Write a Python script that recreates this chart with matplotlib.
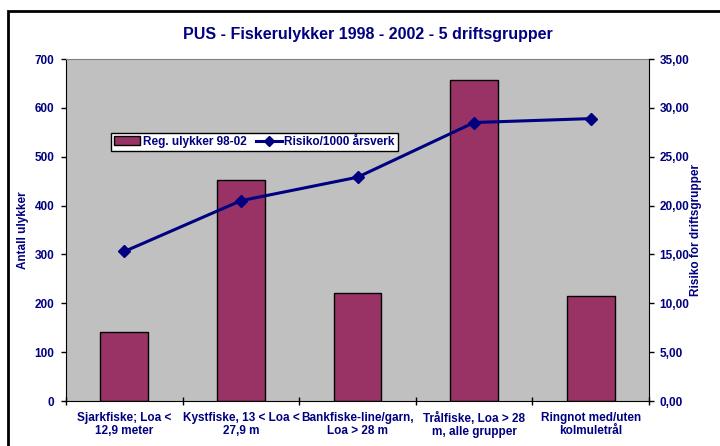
import numpy as np
import matplotlib.pyplot as plt
from matplotlib.patches import Rectangle
from matplotlib.lines import Line2D

# PUS - fishing accidents 1998-2002 by fleet group
categories = ["Sjarkfiske; Loa <\n12,9 meter",
              "Kystfiske, 13 < Loa <\n27,9 m",
              "Bankfiske-line/garn,\nLoa > 28 m",
              "Trålfiske, Loa > 28\nm, alle grupper",
              "Ringnot med/uten\nkolmuletrål"]
accidents = [141, 452, 222, 658, 215]          # Reg. ulykker 98-02
risk = [15.3, 20.5, 22.9, 28.5, 28.9]          # Risiko/1000 årsverk

navy = '#000080'
barcol = '#993366'
plt.rcParams['font.family'] = ['Liberation Sans', 'DejaVu Sans']
plt.rcParams['font.weight'] = 'bold'

fig = plt.figure(figsize=(7.2, 4.46), dpi=100)
ax = fig.add_axes([66/720, 45/446, 583/720, 342/446])
ax.set_facecolor('#C0C0C0')

x = np.arange(len(categories))
ax.bar(x, accidents, width=0.41, color=barcol, edgecolor='black', linewidth=1, zorder=2)
ax.set_xlim(-0.5, 4.5)
ax.set_ylim(0, 700)
ax.set_yticks(np.arange(0, 701, 100))
ax.set_xticks(np.arange(-0.5, 4.6, 1))
ax.set_xticklabels([])
ax.set_xticks(x, minor=True)
ax.set_xticklabels(categories, minor=True, fontsize=8.5, color=navy,
                   fontweight='bold', linespacing=1.1)
ax.tick_params(axis='x', which='minor', length=0, pad=8)
ax.tick_params(axis='x', which='major', direction='inout', length=6, width=1)
ax.tick_params(axis='y', direction='out', length=3.5, width=1, pad=5,
               labelsize=8.5, labelcolor=navy)
for lab in ax.get_yticklabels():
    lab.set_fontweight('bold')
ax.set_ylabel("Antall ulykker", fontsize=8.5, color=navy, fontweight='bold')
ax.yaxis.set_label_coords(-0.063, 0.5)
ax.spines['top'].set_color('#808080')
ax.spines['right'].set_visible(False)

ax2 = ax.twinx()
ax2.plot(x, risk, color=navy, linewidth=2.2, marker='D', markersize=6, zorder=3)
ax2.set_ylim(0, 35)
ax2.set_yticks(np.arange(0, 35.1, 5))
ax2.set_yticklabels([f"{v:.2f}".replace('.', ',') for v in np.arange(0, 35.1, 5)],
                    fontsize=8.5, color=navy, fontweight='bold')
ax2.tick_params(axis='y', direction='out', length=3.5, width=1, pad=4)
ax2.set_ylabel("Risiko for driftsgrupper", fontsize=8.5, color=navy, fontweight='bold')
ax2.yaxis.set_label_coords(1.0703, 0.5)
for s in ['top', 'left', 'bottom']:
    ax2.spines[s].set_visible(False)

handles = [Rectangle((0, 0), 1, 1, facecolor=barcol, edgecolor='black', linewidth=1),
           Line2D([], [], color=navy, linewidth=2.2, marker='D', markersize=5)]
leg = fig.legend(handles, ["Reg. ulykker 98-02", "Risiko/1000 årsverk"], ncol=2,
                 loc='center', bbox_to_anchor=(254.5/720, 1 - 142/446), fontsize=8.5,
                 frameon=True, fancybox=False, framealpha=1, edgecolor='black',
                 handlelength=2.2, handletextpad=0.2, columnspacing=0.8,
                 borderpad=0.25, handleheight=0.8)
leg.get_frame().set_linewidth(1)
for t in leg.get_texts():
    t.set_color(navy)
    t.set_fontweight('bold')

fig.text(368/720, 1 - 35/446, "PUS - Fiskerulykker 1998 - 2002 - 5 driftsgrupper",
         ha='center', va='center', fontsize=11.5, color=navy, fontweight='bold')

# outer chart frame
fig.patches.append(Rectangle((8/720, -0.1), 1.2, 1.1 - 11/446, transform=fig.transFigure,
                             fill=False, edgecolor='black', linewidth=2, figure=fig))

fig.savefig("out.png", dpi=100)
